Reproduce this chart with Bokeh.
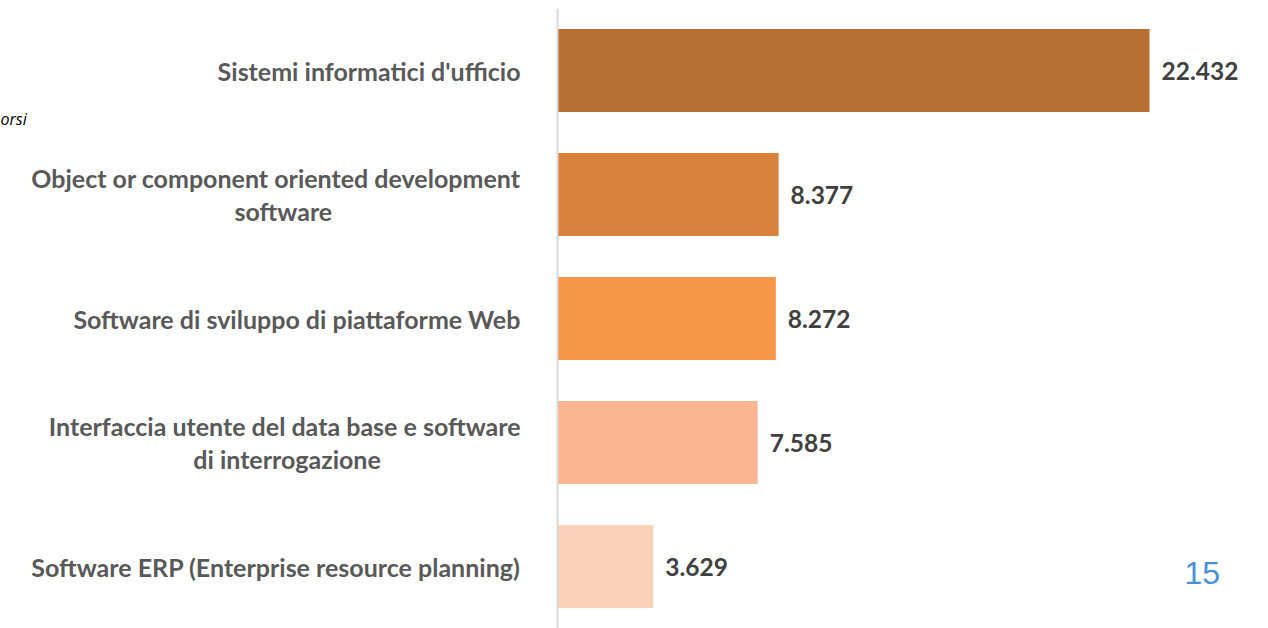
from bokeh.plotting import figure
from bokeh.models import ColumnDataSource, Range1d, FactorRange, Label, Span
from bokeh.core.properties import value
from bokeh.embed import file_html
from bokeh.resources import INLINE

NB = "\u00A0"
categories = [
    "Sistemi informatici d'ufficio",
    "Object or component oriented development\nsoftware" + NB * 31,
    "Software di sviluppo di piattaforme Web",
    "Interfaccia utente del data base e software\ndi interrogazione" + NB * 23,
    "Software ERP (Enterprise resource planning)",
]
values = [22.432, 8.377, 8.272, 7.585, 3.629]
value_labels = ["22.432", "8.377", "8.272", "7.585", "3.629"]
colors = ["#B86F33", "#D9823E", "#F79646", "#F9B690", "#FBD1BA"]
baseline = [0, 0, 0, 0, 0]

FONT = "Lato"

src = ColumnDataSource(dict(cat=categories, val=values, lab=value_labels, col=colors, base=baseline))

p = figure(
    width=1268, height=628,
    y_range=FactorRange(factors=list(reversed(categories))),
    x_range=Range1d(-21.107, 26.94),
    output_backend="svg", toolbar_location=None,
    min_border_left=0, min_border_right=0, min_border_top=8, min_border_bottom=0,
    outline_line_color=None,
)
p.axis.visible = False
p.grid.visible = False

p.add_layout(Span(location=0, dimension="height", line_color="#D9D9D9", line_width=2))
p.hbar(y="cat", right="val", left="base", height=0.67, fill_color="col", line_color=None, source=src)
p.text(x="val", y="cat", text="lab", x_offset=12, text_align="left", text_baseline="middle",
       text_font=value(FONT), text_font_style="bold", text_font_size="24.5px",
       text_color="#404040", source=src)
p.text(x="base", y="cat", text="cat", x_offset=-37, text_align="right", text_baseline="middle",
       text_font=value(FONT), text_font_style="bold", text_font_size="25px",
       text_line_height=1.1, text_color="#595959", source=src)

p.add_layout(Label(x=0, y=510, x_units="screen", y_units="screen", text="orsi",
                   text_font="Open Sans", text_font_style="italic", text_font_size="16px",
                   text_color="#000000", text_baseline="middle"))
p.add_layout(Label(x=1184, y=56, x_units="screen", y_units="screen", text="15",
                   text_font="Liberation Sans", text_font_size="32px",
                   text_color="#4A90D9", text_baseline="middle"))

open("out.html", "w").write(file_html(p, INLINE))
